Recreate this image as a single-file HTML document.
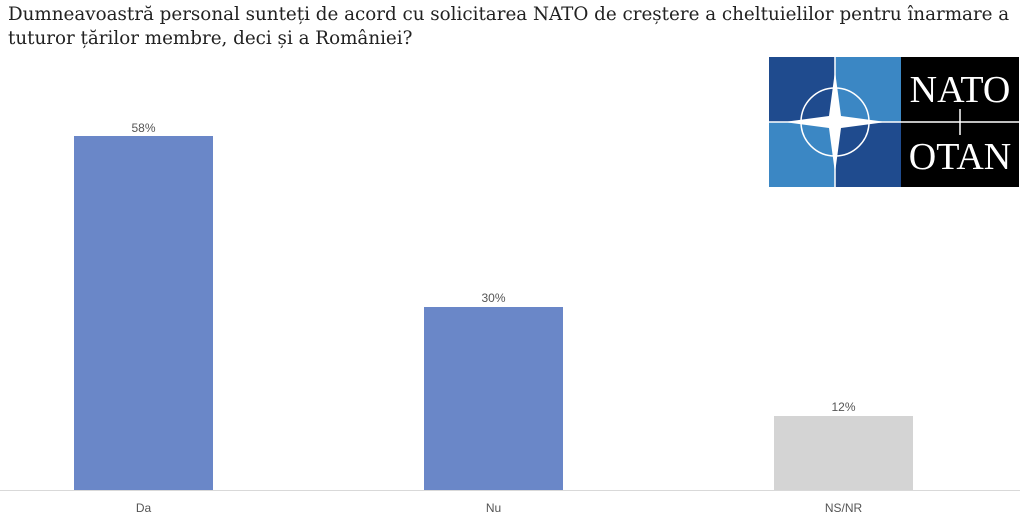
<!DOCTYPE html>
<html><head><meta charset="utf-8"><style>
body{margin:0;width:1024px;height:525px;background:#fff;position:relative;overflow:hidden;font-family:"Liberation Sans",sans-serif}
.t{position:absolute;left:8px;top:3px;width:1015px;font-family:"DejaVu Serif",serif;font-size:18.3px;line-height:24px;color:#222;white-space:nowrap}
.bar{position:absolute;width:139px}
.v{position:absolute;width:139px;text-align:center;font-size:12px;color:#555}
.l{position:absolute;width:139px;text-align:center;font-size:12px;color:#555;top:501px}
</style></head><body>
<div class="t">Dumneavoastră personal sunteți de acord cu solicitarea NATO de creștere a cheltuielilor pentru înarmare a<br>tuturor țărilor membre, deci și a României?</div>
<svg style="position:absolute;left:769px;top:57px" width="250" height="130" viewBox="0 0 250 130">
<rect x="0" y="0" width="66" height="65" fill="#1f4b8e"/>
<rect x="66" y="0" width="66" height="65" fill="#3b87c4"/>
<rect x="0" y="65" width="66" height="65" fill="#3b87c4"/>
<rect x="66" y="65" width="66" height="65" fill="#1f4b8e"/>
<rect x="132" y="0" width="118" height="130" fill="#000"/>
<line x1="0" y1="65" x2="250" y2="65" stroke="#fff" stroke-width="1.5"/>
<line x1="66" y1="0" x2="66" y2="130" stroke="#fff" stroke-width="1.5"/>
<line x1="191" y1="52" x2="191" y2="78" stroke="#fff" stroke-width="1.5"/>
<circle cx="66" cy="65" r="34" fill="none" stroke="#fff" stroke-width="1.5"/>
<polygon points="66,14 72,59 117,65 72,71 66,116 60,71 15,65 60,59" fill="#fff"/>
<text x="191" y="45" text-anchor="middle" font-family="Liberation Serif,serif" font-size="38" fill="#fff">NATO</text>
<text x="191" y="112" text-anchor="middle" font-family="Liberation Serif,serif" font-size="38" fill="#fff">OTAN</text>
</svg>
<div class="bar" style="left:74px;top:136px;height:354px;background:#6a87c8"></div>
<div class="bar" style="left:424px;top:307px;height:183px;background:#6a87c8"></div>
<div class="bar" style="left:774px;top:416px;height:74px;background:#d4d4d4"></div>
<div class="v" style="left:74px;top:121px">58%</div>
<div class="v" style="left:424px;top:291px">30%</div>
<div class="v" style="left:774px;top:400px">12%</div>
<div style="position:absolute;left:0;top:490px;width:1020px;height:1px;background:#d9d9d9"></div>
<div class="l" style="left:74px">Da</div>
<div class="l" style="left:424px">Nu</div>
<div class="l" style="left:774px">NS/NR</div>
</body></html>
